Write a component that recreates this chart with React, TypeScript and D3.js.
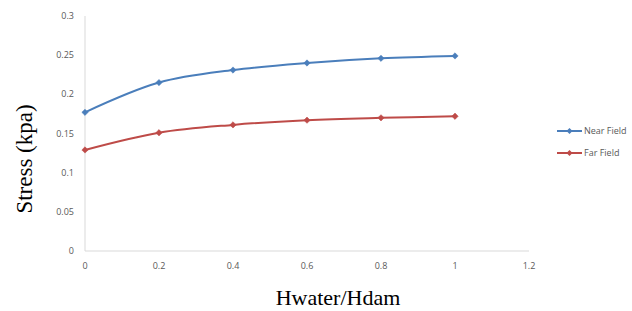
import * as d3 from 'd3';
import { FC, useEffect, useRef } from 'react';

const ratios = [0, 0.2, 0.4, 0.6, 0.8, 1];
const nearField = [0.177, 0.215, 0.231, 0.24, 0.246, 0.249];
const farField = [0.129, 0.151, 0.161, 0.167, 0.17, 0.172];
const xTicks = [0, 0.2, 0.4, 0.6, 0.8, 1, 1.2];
const yTicks = [0, 0.05, 0.1, 0.15, 0.2, 0.25, 0.3];
const seriesNames = ['Near Field', 'Far Field'];

const width = 632;
const height = 311;
const plot = { left: 85, right: 529, top: 16, bottom: 251 };
const colors = ['#4a7ebb', '#be4b48'];
const tickFont = '"Open Sans", "Liberation Sans", sans-serif';

const App: FC = () => {
  const ref = useRef<SVGSVGElement>(null);

  useEffect(() => {
    drawChart();
  }, []);

  const drawChart = () => {
    const svg = d3.select(ref.current);
    svg.selectAll('*').remove();

    const x = d3.scaleLinear().domain([0, 1.2]).range([plot.left, plot.right]);
    const y = d3.scaleLinear().domain([0, 0.3]).range([plot.bottom, plot.top]);

    // axis lines
    svg
      .append('line')
      .attr('x1', plot.left)
      .attr('x2', plot.left)
      .attr('y1', y(0.3))
      .attr('y2', y(0))
      .attr('stroke', '#d9d9d9')
      .attr('stroke-width', 1);
    svg
      .append('line')
      .attr('x1', x(0))
      .attr('x2', x(1.2))
      .attr('y1', plot.bottom)
      .attr('y2', plot.bottom)
      .attr('stroke', '#d9d9d9')
      .attr('stroke-width', 1);

    svg
      .selectAll('.y-tick')
      .data(yTicks)
      .enter()
      .append('text')
      .attr('class', 'y-tick')
      .attr('x', 74)
      .attr('y', (d) => y(d))
      .attr('dy', '0.35em')
      .attr('text-anchor', 'end')
      .style('font-family', tickFont)
      .style('font-size', '9px')
      .style('fill', '#595959')
      .text((d) => String(d));

    svg
      .selectAll('.x-tick')
      .data(xTicks)
      .enter()
      .append('text')
      .attr('class', 'x-tick')
      .attr('x', (d) => x(d))
      .attr('y', 266)
      .attr('dy', '0.35em')
      .attr('text-anchor', 'middle')
      .style('font-family', tickFont)
      .style('font-size', '9px')
      .style('fill', '#595959')
      .text((d) => String(d));

    const line = d3
      .line<number>()
      .x((_d, i) => x(ratios[i]))
      .y((d) => y(d))
      .curve(d3.curveCatmullRom.alpha(0.5));

    // excel-style diamond: a square turned 45 degrees
    const marker = d3.symbol(d3.symbolSquare, 20);

    [nearField, farField].forEach((series, s) => {
      svg
        .append('path')
        .datum(series)
        .attr('d', line)
        .attr('fill', 'none')
        .attr('stroke', colors[s])
        .attr('stroke-width', 2);

      svg
        .selectAll(`.pt-${s}`)
        .data(series)
        .enter()
        .append('path')
        .attr('class', `pt-${s}`)
        .attr('d', marker)
        .attr('transform', (d, i) => `translate(${x(ratios[i])},${y(d)}) rotate(45)`)
        .attr('fill', colors[s])
        .attr('stroke', colors[s])
        .attr('stroke-width', 0.5);
    });

    // legend
    const legend = svg
      .selectAll('.legend')
      .data(seriesNames)
      .enter()
      .append('g')
      .attr('class', 'legend')
      .attr('transform', (_d, i) => `translate(557,${131 + i * 22})`);
    legend
      .append('line')
      .attr('x1', 0)
      .attr('x2', 25)
      .attr('stroke', (_d, i) => colors[i])
      .attr('stroke-width', 2);
    legend
      .append('path')
      .attr('d', d3.symbol(d3.symbolSquare, 18))
      .attr('transform', 'translate(12.5,0) rotate(45)')
      .attr('fill', (_d, i) => colors[i]);
    legend
      .append('text')
      .attr('x', 27)
      .attr('dy', '0.35em')
      .style('font-family', tickFont)
      .style('font-size', '9px')
      .style('fill', '#595959')
      .text((d) => d);

    svg
      .append('text')
      .attr('transform', 'translate(32,159) rotate(-90)')
      .attr('text-anchor', 'middle')
      .style('font-family', '"Liberation Serif", serif')
      .style('font-size', '23px')
      .style('fill', '#000')
      .text('Stress (kpa)');

    svg
      .append('text')
      .attr('x', 338)
      .attr('y', 305)
      .attr('text-anchor', 'middle')
      .style('font-family', '"Liberation Serif", serif')
      .style('font-size', '22px')
      .style('fill', '#000')
      .text('Hwater/Hdam');
  };

  return (
    <svg
      ref={ref}
      width={width}
      height={height}
      style={{ position: 'absolute', left: 0, top: 0, background: '#fff' }}
    />
  );
};

export default App;
